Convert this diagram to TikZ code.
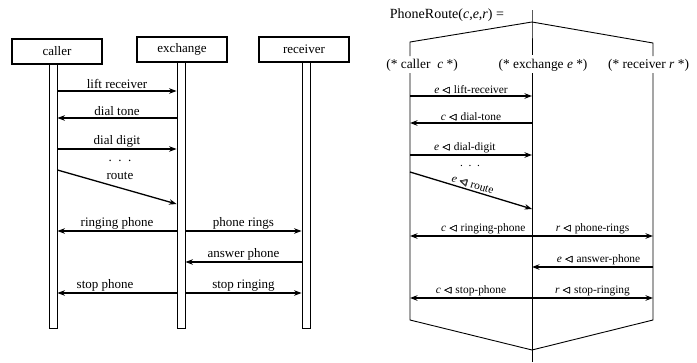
\documentclass[tikz,border=0pt]{standalone}
\usepackage{amsmath,amssymb}
\usepackage{fontspec}
\setmainfont{Liberation Serif}
\usetikzlibrary{arrows.meta,calc}
\tikzset{
  msg/.style={line width=1.3pt,-{Stealth[length=7.5pt,width=5.5pt]}},
  party/.style={draw,line width=1.2pt,minimum width=90pt,minimum height=25pt,inner sep=0pt,font=\fontsize{13}{15}\selectfont},
  lifeline/.style={draw,line width=0.8pt,minimum width=8pt,inner sep=0pt},
  frame/.style={line width=0.9pt},
  lbl/.style={font=\fontsize{13}{15}\selectfont,inner sep=1.5pt},
  slbl/.style={font=\fontsize{11.4}{13}\selectfont,inner sep=1.5pt},
  head/.style={font=\fontsize{13.4}{15}\selectfont,inner sep=0pt},
}
\newcommand{\sendto}[1]{\textit{#1}~\(\pmb{\lhd}\)~}

\begin{document}
\begin{tikzpicture}[x=1pt,y=-1pt]
		\useasboundingbox (0,0) rectangle (697,362);
		%%%%% MESSAGE CHART %%%%%
		
		\node[party] (caller) at (57,51.5) {caller};
		\node[party] (exchange) at (182,49.5) {exchange};
		\node[party] (receiver) at (304,49.5) {receiver};
		
		\node[lifeline,minimum height=264pt] (cline) at (53,196) {};
		\node[lifeline,minimum height=266pt] (xline) at (181,195) {};
		\node[lifeline,minimum height=266pt] (rline) at (306,195) {};
		
		\draw[msg] (cline.east |- 0,91) -- (xline.west |- 0,91) node[midway,above,lbl] {lift receiver};
		\draw[msg] (xline.west |- 0,118) -- (cline.east |- 0,118) node[midway,above,lbl] {dial tone};
		\draw[msg] (cline.east |- 0,149) -- (xline.west |- 0,149) node[midway,above,lbl] {dial digit};
		\node[lbl] (cdots) at (120,161) {.\ \ .\ \ .};
		\draw[msg] (cline.east |- 0,170) -- (xline.west |- 0,204);
		\node[lbl] (croute) at (120,176) {route};
		
		\draw[msg] (xline.west |- 0,231) -- (cline.east |- 0,231) node[midway,above,lbl] {ringing phone};
		\draw[msg] (xline.east |- 0,231) -- (rline.west |- 0,231) node[midway,above,lbl] {phone rings};
		\draw[msg] (rline.west |- 0,262) -- (xline.east |- 0,262) node[midway,above,lbl] {answer phone};
		\draw[msg] (xline.west |- 0,293) -- (cline.east |- 0,293) node[pos=0.6,above,lbl] {stop phone};
		\draw[msg] (xline.east |- 0,293) -- (rline.west |- 0,293) node[midway,above,lbl] {stop ringing};
		
		%%%%% PROCESS FORM %%%%%
		
		\node[head,font=\fontsize{14}{16}\selectfont] (title) at (447,15) {PhoneRoute(\textit{c},\textit{e},\textit{r}) =};
		
		\coordinate (top) at (532,10);
		\coordinate (apex) at (532,22);
		\coordinate (lcorner) at (410,42);
		\coordinate (rcorner) at (653,43);
		\coordinate (bottom) at (532,350);
		
		\coordinate (ct) at (410,73);
		\coordinate (et) at (532,73);
		\coordinate (rt) at (653,73);
		\coordinate (cb) at (410,320);
		\coordinate (eb) at (532,362);
		\coordinate (rb) at (653,320);
		
		\draw[frame] (top) -- (apex) -- ++(0,33);
		\draw[frame] (lcorner |- 0,56) -- (lcorner) -- (apex) -- (rcorner) -- (rcorner |- 0,56);
		
		\node[head] (cname) at (422,65) {(* caller~ \textit{c} *)};
		\node[head] (ename) at (543,65) {(* exchange \textit{e} *)};
		\node[head,anchor=west] (rname) at (608,65) {(* receiver \textit{r} *)};
		
		\draw[frame] (ct) -- (cb) -- (bottom) -- (rb) -- (rt);
		\draw[frame] (et) -- (eb);
		
		\draw[msg] (ct |- 0,96) -- (et |- 0,96) node[midway,above,slbl] {\sendto{e}lift-receiver};
		\draw[msg] (et |- 0,123) -- (ct |- 0,123) node[midway,above,slbl] {\sendto{c}dial-tone};
		\draw[msg] (ct |- 0,155) -- (et |- 0,155) node[pos=0.45,above,slbl] {\sendto{e}dial-digit};
		\node[slbl] (edots) at (470,166) {.\ \ .\ \ .};
		\draw[msg] (ct |- 0,172) -- (et |- 0,209) node[midway,above,sloped,slbl] {\sendto{e}route};
		
		\draw[msg] (et |- 0,236) -- (ct |- 0,236) node[pos=0.4,above,slbl] {\sendto{c}ringing-phone};
		\draw[msg] (et |- 0,236) -- (rt |- 0,236) node[midway,above,slbl] {\sendto{r}phone-rings};
		\draw[msg] (rt |- 0,267) -- (et |- 0,267) node[pos=0.45,above,slbl] {\sendto{e}answer-phone};
		\draw[msg] (et |- 0,298) -- (ct |- 0,298) node[midway,above,slbl] {\sendto{c}stop-phone};
		\draw[msg] (et |- 0,298) -- (rt |- 0,298) node[midway,above,slbl] {\sendto{r}stop-ringing};
		
		%%%%% END %%%%%
\end{tikzpicture}
\end{document}
